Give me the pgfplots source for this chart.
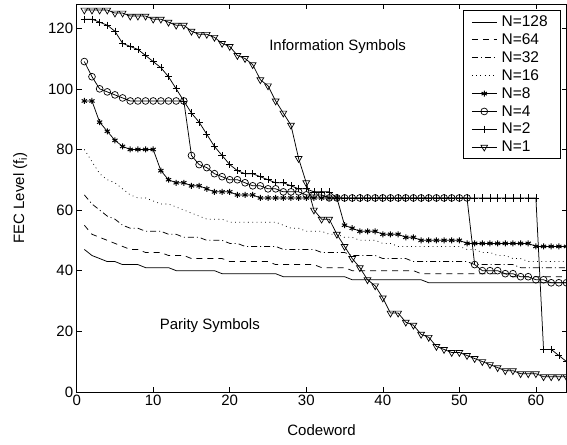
\documentclass[border=0pt]{standalone}
\usepackage{fontspec}
\setmainfont{Liberation Sans}
\usepackage{pgfplots}
\pgfplotsset{compat=1.18}
\begin{document}
\begin{tikzpicture}
\begin{axis}[
  width=490pt, height=388pt, scale only axis,
  xmin=0, xmax=64, ymin=0, ymax=128,
  xtick={0,10,...,60}, ytick={0,20,...,120},
  tick align=inside, major tick length=5pt,
  /pgf/number format/assume math mode=true,
  ticklabel style={font=\fontsize{15}{17}\selectfont},
  label style={font=\fontsize{15}{17}\selectfont},
  xlabel={Codeword}, ylabel={FEC Level (f\textsubscript{i})},
  xlabel style={at={(axis description cs:0.5,-0.098)},anchor=center},
  ylabel style={at={(axis description cs:-0.115,0.5)},anchor=center},
  axis line style={line width=0.7pt},
  every tick/.style={line width=0.6pt, black},
  legend style={at={(rel axis cs:1,1)}, anchor=north east, xshift=-6pt, yshift=-6.5pt,
    font=\fontsize{15.5}{17}\selectfont, draw=black, line width=0.6pt, row sep=1.6pt,
    inner xsep=8pt, inner ysep=3pt, nodes={inner xsep=4.5pt, inner ysep=2pt}},
  legend cell align=left,
  legend image code/.code={\draw[mark repeat=2,mark phase=2,#1] plot coordinates {(0pt,0pt)(12.5pt,0pt)(25pt,0pt)};},
  every axis plot/.append style={line width=0.75pt, black},
]
\addplot[solid] coordinates {(1,47)(2,45)(3,44)(4,43)(5,43)(6,42)(7,42)(8,42)(9,41)(10,41)(11,41)(12,41)(13,40)(14,40)(15,40)(16,40)(17,40)(18,40)(19,39)(20,39)(21,39)(22,39)(23,39)(24,39)(25,39)(26,39)(27,38)(28,38)(29,38)(30,38)(31,38)(32,38)(33,38)(34,38)(35,38)(36,37)(37,37)(38,37)(39,37)(40,37)(41,37)(42,37)(43,37)(44,37)(45,37)(46,36)(47,36)(48,36)(49,36)(50,36)(51,36)(52,36)(53,36)(54,36)(55,36)(56,36)(57,36)(58,36)(59,36)(60,36)(61,36)(62,36)(63,36)(64,36)};
\addlegendentry{N=128}
\addplot[dash pattern=on 6pt off 5pt] coordinates {(1,55)(2,52)(3,51)(4,50)(5,49)(6,48)(7,47)(8,47)(9,46)(10,46)(11,46)(12,45)(13,45)(14,45)(15,44)(16,44)(17,44)(18,44)(19,44)(20,43)(21,43)(22,43)(23,43)(24,43)(25,43)(26,42)(27,42)(28,42)(29,42)(30,42)(31,42)(32,41)(33,41)(34,41)(35,41)(36,40)(37,40)(38,40)(39,40)(40,40)(41,40)(42,40)(43,40)(44,40)(45,39)(46,39)(47,39)(48,39)(49,39)(50,39)(51,39)(52,39)(53,39)(54,39)(55,39)(56,39)(57,38)(58,38)(59,38)(60,38)(61,38)(62,38)(63,38)(64,38)};
\addlegendentry{N=64}
\addplot[dash pattern=on 6pt off 3pt on 1pt off 3pt] coordinates {(1,65)(2,62)(3,60)(4,58)(5,57)(6,55)(7,54)(8,54)(9,53)(10,53)(11,53)(12,52)(13,52)(14,51)(15,51)(16,51)(17,50)(18,50)(19,50)(20,49)(21,49)(22,48)(23,48)(24,48)(25,48)(26,48)(27,47)(28,47)(29,47)(30,47)(31,47)(32,46)(33,46)(34,46)(35,46)(36,45)(37,45)(38,45)(39,45)(40,44)(41,44)(42,44)(43,44)(44,43)(45,43)(46,43)(47,43)(48,43)(49,43)(50,43)(51,43)(52,42)(53,42)(54,42)(55,42)(56,42)(57,42)(58,41)(59,41)(60,41)(61,41)(62,41)(63,41)(64,41)};
\addlegendentry{N=32}
\addplot[dash pattern=on 0.8pt off 3.5pt] coordinates {(1,80)(2,76)(3,72)(4,70)(5,69)(6,67)(7,65)(8,64)(9,64)(10,63)(11,62)(12,62)(13,61)(14,60)(15,59)(16,58)(17,57)(18,57)(19,57)(20,56)(21,56)(22,56)(23,56)(24,56)(25,56)(26,56)(27,55)(28,54)(29,54)(30,53)(31,53)(32,53)(33,52)(34,52)(35,51)(36,51)(37,50)(38,50)(39,50)(40,49)(41,49)(42,48)(43,48)(44,48)(45,48)(46,48)(47,48)(48,48)(49,48)(50,48)(51,47)(52,47)(53,46)(54,46)(55,45)(56,45)(57,44)(58,44)(59,43)(60,43)(61,43)(62,43)(63,43)(64,43)};
\addlegendentry{N=16}
\addplot[solid, mark=asterisk, mark size=3pt, mark options={line width=1pt}] coordinates {(1,96)(2,96)(3,89)(4,86)(5,83)(6,81)(7,80)(8,80)(9,80)(10,80)(11,73)(12,70)(13,69)(14,69)(15,68)(16,68)(17,67)(18,66)(19,66)(20,66)(21,65)(22,65)(23,65)(24,64)(25,64)(26,64)(27,64)(28,64)(29,64)(30,64)(31,64)(32,64)(33,64)(34,64)(35,55)(36,54)(37,53)(38,53)(39,53)(40,52)(41,52)(42,52)(43,51)(44,51)(45,50)(46,50)(47,50)(48,50)(49,50)(50,50)(51,49)(52,49)(53,49)(54,49)(55,49)(56,49)(57,49)(58,49)(59,49)(60,48)(61,48)(62,48)(63,48)(64,48)};
\addlegendentry{N=8}
\addplot[solid, mark=o, mark size=3.4pt, mark options={line width=0.7pt}] coordinates {(1,109)(2,104)(3,100)(4,99)(5,98)(6,97)(7,96)(8,96)(9,96)(10,96)(11,96)(12,96)(13,96)(14,96)(15,78)(16,75)(17,74)(18,72)(19,71)(20,70)(21,70)(22,69)(23,68)(24,68)(25,67)(26,67)(27,66)(28,66)(29,66)(30,65)(31,65)(32,65)(33,64)(34,64)(35,64)(36,64)(37,64)(38,64)(39,64)(40,64)(41,64)(42,64)(43,64)(44,64)(45,64)(46,64)(47,64)(48,64)(49,64)(50,64)(51,64)(52,42)(53,40)(54,40)(55,40)(56,39)(57,39)(58,38)(59,38)(60,37)(61,37)(62,36)(63,36)(64,36)};
\addlegendentry{N=4}
\addplot[solid, mark=+, mark size=3.6pt, mark options={line width=0.7pt}] coordinates {(1,123)(2,123)(3,122)(4,121)(5,119)(6,115)(7,114)(8,113)(9,111)(10,109)(11,107)(12,104)(13,100)(14,96)(15,92)(16,89)(17,85)(18,81)(19,78)(20,75)(21,73)(22,72)(23,72)(24,71)(25,70)(26,69)(27,69)(28,68)(29,67)(30,67)(31,66)(32,66)(33,66)(34,64)(35,64)(36,64)(37,64)(38,64)(39,64)(40,64)(41,64)(42,64)(43,64)(44,64)(45,64)(46,64)(47,64)(48,64)(49,64)(50,64)(51,64)(52,64)(53,64)(54,64)(55,64)(56,64)(57,64)(58,64)(59,64)(60,64)(61,14)(62,14)(63,12)(64,10)};
\addlegendentry{N=2}
\addplot[solid, mark=triangle, mark size=3.9pt, mark options={rotate=180, line width=0.7pt}] coordinates {(1,126)(2,126)(3,126)(4,126)(5,125)(6,125)(7,124)(8,124)(9,124)(10,123)(11,123)(12,122)(13,121)(14,121)(15,119)(16,118)(17,118)(18,117)(19,115)(20,114)(21,111)(22,110)(23,108)(24,103)(25,101)(26,96)(27,92)(28,88)(29,77)(30,69)(31,60)(32,57)(33,57)(34,52)(35,48)(36,44)(37,41)(38,37)(39,35)(40,31)(41,26)(42,26)(43,23)(44,22)(45,19)(46,18)(47,15)(48,14)(49,13)(50,13)(51,12)(52,11)(53,10)(54,9)(55,8)(56,7)(57,7)(58,6)(59,6)(60,6)(61,5)(62,5)(63,5)(64,5)};
\addlegendentry{N=1}
\node[font=\fontsize{15}{17}\selectfont] at (axis cs:34.1,113.8) {Information Symbols};
\node[font=\fontsize{15}{17}\selectfont] at (axis cs:17.4,22) {Parity Symbols};
\end{axis}
\pgfresetboundingbox
\path ([shift={(-76.7pt,-53pt)}]current axis.south west) rectangle ([shift={(0.5pt,4pt)}]current axis.north east);
\end{tikzpicture}
\end{document}
